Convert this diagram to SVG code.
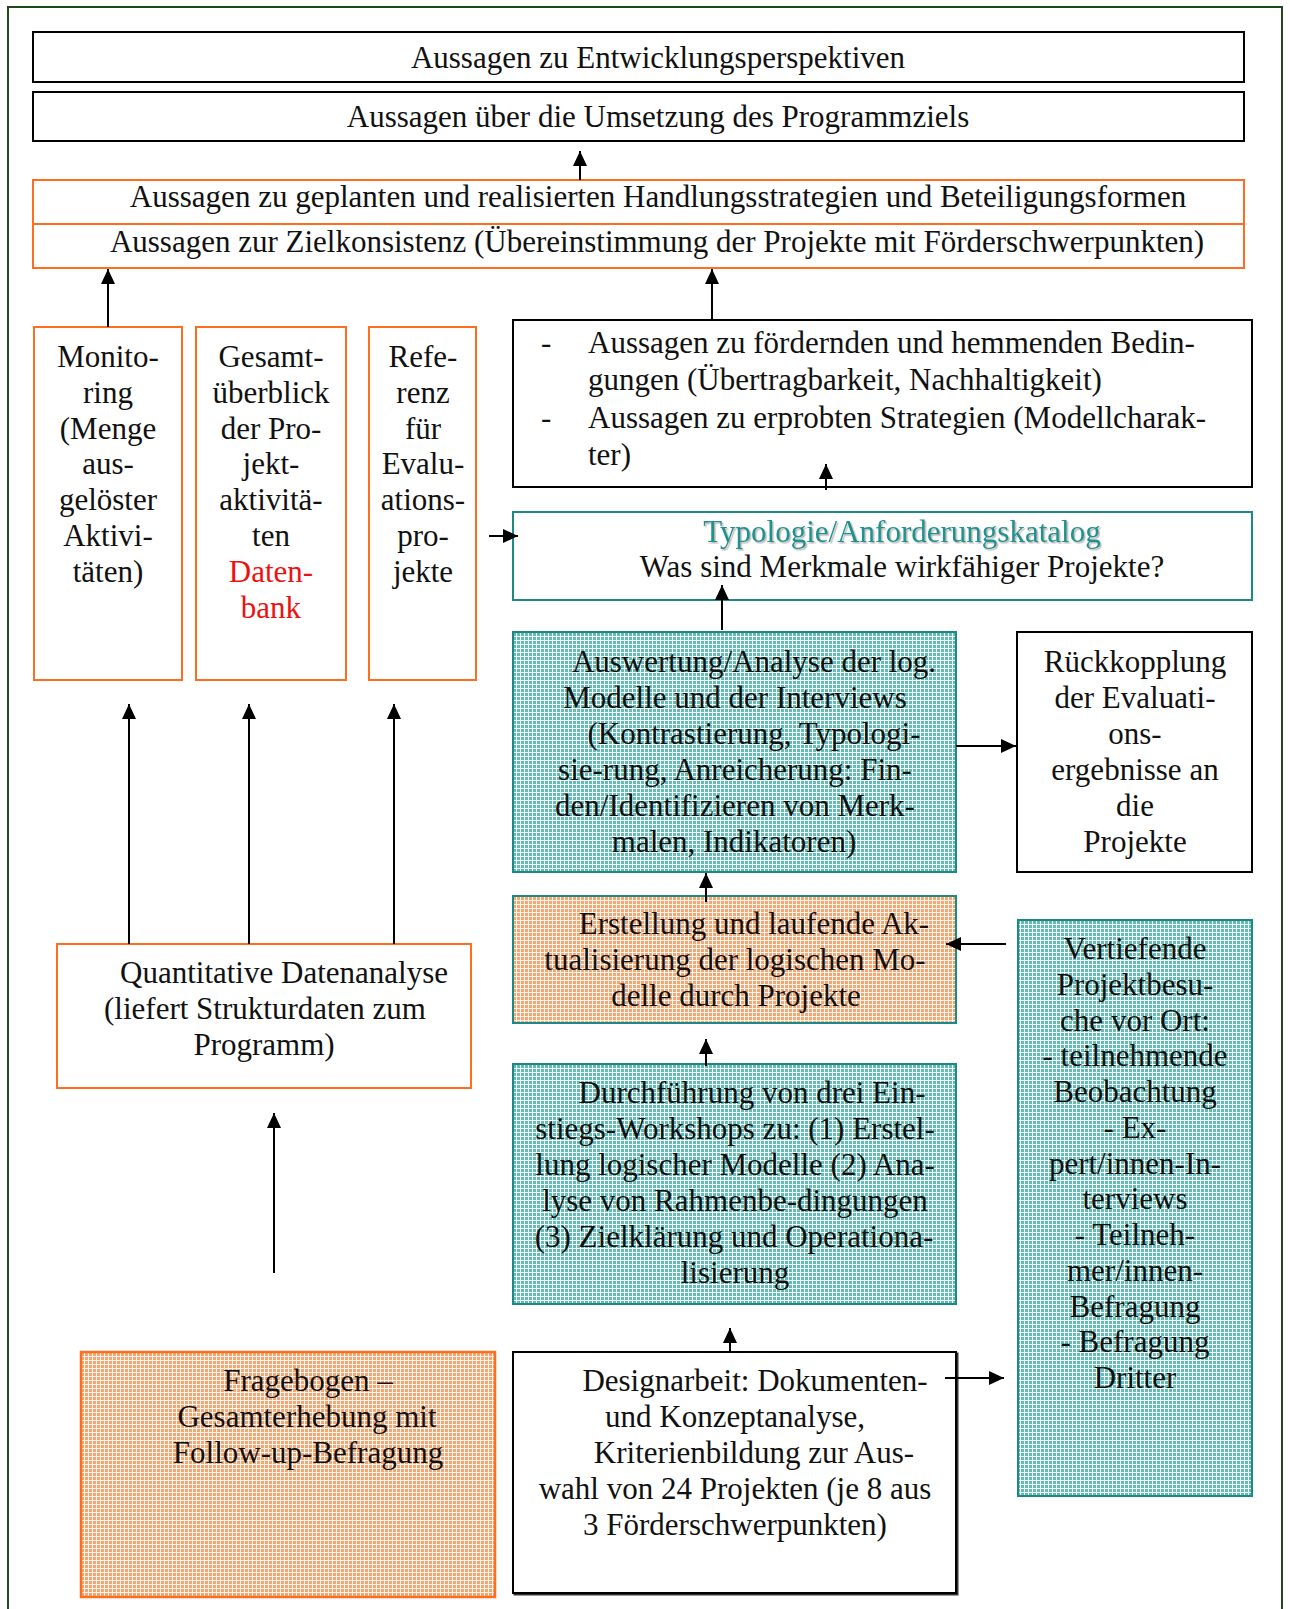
<svg xmlns="http://www.w3.org/2000/svg" width="1290" height="1609" viewBox="0 0 1290 1609">
<defs>
<style>
text{font-family:"Liberation Serif","DejaVu Serif",serif;font-size:31px;fill:#111}
.c{text-anchor:middle}
.blk{fill:#fff;stroke:#000;stroke-width:2}
.org{fill:#fff;stroke:#ff6d1f;stroke-width:2}
.tl{fill:#fff;stroke:#1b8a86;stroke-width:2}
.tlh{fill:url(#tealHatch);stroke:#1b8a86;stroke-width:2}
.orh{fill:url(#orgHatch);stroke:#1b8a86;stroke-width:2}
.orh2{fill:url(#orgHatch);stroke:#ff6d1f;stroke-width:2.5}
.conn line{stroke:#000;stroke-width:2;marker-end:url(#ah)}
.red{fill:#ee1111}
.teal{fill:#1f938f}
</style>
<pattern id="tealHatch" width="4" height="4" patternUnits="userSpaceOnUse">
<rect width="4" height="4" fill="#66bbb7"/>
<rect width="4" height="1" fill="#f4fbfb"/>
<rect width="1" height="4" fill="#f4fbfb"/>
</pattern>
<pattern id="orgHatch" width="4" height="4" patternUnits="userSpaceOnUse">
<rect width="4" height="4" fill="#f5a673"/>
<rect width="4" height="1" fill="#fef5ef"/>
<rect width="1" height="4" fill="#fef5ef"/>
</pattern>
<marker id="ah" markerUnits="userSpaceOnUse" markerWidth="16" markerHeight="14" refX="15" refY="7" orient="auto">
<path d="M0,0 L15,7 L0,14 Z" fill="#000"/>
</marker>
<filter id="tsh" x="-5%" y="-20%" width="110%" height="140%">
<feDropShadow dx="1.5" dy="1.5" stdDeviation="0.6" flood-color="#999" flood-opacity="0.7"/>
</filter>
<filter id="bsh" x="-2%" y="-2%" width="104%" height="104%">
<feDropShadow dx="1.5" dy="1.5" stdDeviation="0.3" flood-color="#000" flood-opacity="0.8"/>
</filter>
</defs>

<rect id="frame" x="8" y="7" width="1274" height="1640" fill="#fff" stroke="#1e4a1e" stroke-width="2"/>

<g id="n-entwicklung">
<rect class="blk" x="33" y="32" width="1211" height="50"/>
<text class="c" x="658" y="68">Aussagen zu Entwicklungsperspektiven</text>
</g>
<g id="n-umsetzung">
<rect class="blk" x="33" y="92" width="1211" height="49"/>
<text class="c" x="658" y="127">Aussagen über die Umsetzung des Programmziels</text>
</g>
<g id="n-handlung">
<rect class="org" x="33" y="180" width="1211" height="44"/>
<text class="c" x="658" y="207">Aussagen zu geplanten und realisierten Handlungsstrategien und Beteiligungsformen</text>
</g>
<g id="n-ziel">
<rect class="org" x="33" y="224" width="1211" height="44"/>
<text class="c" x="657" y="252">Aussagen zur Zielkonsistenz (Übereinstimmung der Projekte mit Förderschwerpunkten)</text>
</g>

<g id="n-monitoring">
<rect class="org" x="34" y="327" width="148" height="353"/>
<text class="c" x="108" y="367">Monito-</text>
<text class="c" x="108" y="403">ring</text>
<text class="c" x="108" y="439">(Menge</text>
<text class="c" x="108" y="474">aus-</text>
<text class="c" x="108" y="510">gelöster</text>
<text class="c" x="108" y="546">Aktivi-</text>
<text class="c" x="108" y="582">täten)</text>
</g>
<g id="n-gesamt">
<rect class="org" x="196" y="327" width="150" height="353"/>
<text class="c" x="271" y="367">Gesamt-</text>
<text class="c" x="271" y="403">überblick</text>
<text class="c" x="271" y="439">der Pro-</text>
<text class="c" x="271" y="474">jekt-</text>
<text class="c" x="271" y="510">aktivitä-</text>
<text class="c" x="271" y="546">ten</text>
<text class="c red" x="271" y="582">Daten-</text>
<text class="c red" x="271" y="618">bank</text>
</g>
<g id="n-referenz">
<rect class="org" x="369" y="327" width="107" height="353"/>
<text class="c" x="423" y="367">Refe-</text>
<text class="c" x="423" y="403">renz</text>
<text class="c" x="423" y="439">für</text>
<text class="c" x="423" y="474">Evalu-</text>
<text class="c" x="423" y="510">ations-</text>
<text class="c" x="423" y="546">pro-</text>
<text class="c" x="423" y="582">jekte</text>
</g>

<g id="n-bedingungen">
<rect class="blk" x="513" y="320" width="739" height="167"/>
<text x="541" y="353">-</text>
<text x="588" y="353">Aussagen zu fördernden und hemmenden Bedin-</text>
<text x="588" y="390">gungen (Übertragbarkeit, Nachhaltigkeit)</text>
<text x="541" y="428">-</text>
<text x="588" y="428">Aussagen zu erprobten Strategien (Modellcharak-</text>
<text x="588" y="465">ter)</text>
</g>

<g id="n-typologie">
<rect class="tl" x="513" y="512" width="739" height="88"/>
<text class="c teal" x="902" y="542" filter="url(#tsh)">Typologie/Anforderungskatalog</text>
<text class="c" x="902" y="577">Was sind Merkmale wirkfähiger Projekte?</text>
</g>

<g id="n-auswertung">
<rect class="tlh" x="513" y="632" width="443" height="240"/>
<text class="c" x="754" y="672">Auswertung/Analyse der log.</text>
<text class="c" x="735" y="708">Modelle und der Interviews</text>
<text class="c" x="754" y="744">(Kontrastierung, Typologi-</text>
<text class="c" x="735" y="780">sie-rung, Anreicherung: Fin-</text>
<text class="c" x="735" y="816">den/Identifizieren von Merk-</text>
<text class="c" x="734" y="852">malen, Indikatoren)</text>
</g>

<g id="n-rueckkopplung">
<rect class="blk" x="1017" y="632" width="235" height="240"/>
<text class="c" x="1135" y="672">Rückkopplung</text>
<text class="c" x="1135" y="708">der Evaluati-</text>
<text class="c" x="1135" y="744">ons-</text>
<text class="c" x="1135" y="780">ergebnisse an</text>
<text class="c" x="1135" y="816">die</text>
<text class="c" x="1135" y="852">Projekte</text>
</g>

<g id="n-erstellung">
<rect class="orh" x="513" y="896" width="443" height="127"/>
<text class="c" x="754" y="934">Erstellung und laufende Ak-</text>
<text class="c" x="735" y="970">tualisierung der logischen Mo-</text>
<text class="c" x="736" y="1006">delle durch Projekte</text>
</g>

<g id="n-vertiefende">
<rect class="tlh" x="1018" y="920" width="234" height="576"/>
<text class="c" x="1135" y="959">Vertiefende</text>
<text class="c" x="1135" y="995">Projektbesu-</text>
<text class="c" x="1135" y="1031">che vor Ort:</text>
<text class="c" x="1135" y="1066">- teilnehmende</text>
<text class="c" x="1135" y="1102">Beobachtung</text>
<text class="c" x="1135" y="1138">- Ex-</text>
<text class="c" x="1135" y="1174">pert/innen-In-</text>
<text class="c" x="1135" y="1209">terviews</text>
<text class="c" x="1135" y="1245">- Teilneh-</text>
<text class="c" x="1135" y="1281">mer/innen-</text>
<text class="c" x="1135" y="1317">Befragung</text>
<text class="c" x="1135" y="1352">- Befragung</text>
<text class="c" x="1135" y="1388">Dritter</text>
</g>

<g id="n-quantitativ">
<rect class="org" x="57" y="944" width="414" height="144"/>
<text class="c" x="284" y="983">Quantitative Datenanalyse</text>
<text class="c" x="265" y="1019">(liefert Strukturdaten zum</text>
<text class="c" x="264" y="1055">Programm)</text>
</g>

<g id="n-durchfuehrung">
<rect class="tlh" x="513" y="1064" width="443" height="240"/>
<text class="c" x="752" y="1103">Durchführung von drei Ein-</text>
<text class="c" x="735" y="1139">stiegs-Workshops zu: (1) Erstel-</text>
<text class="c" x="735" y="1175">lung logischer Modelle (2) Ana-</text>
<text class="c" x="735" y="1211">lyse von Rahmenbe-dingungen</text>
<text class="c" x="734" y="1247">(3) Zielklärung und Operationa-</text>
<text class="c" x="735" y="1283">lisierung</text>
</g>

<g id="n-fragebogen">
<rect class="orh2" x="81" y="1352" width="414" height="245"/>
<text class="c" x="308" y="1391">Fragebogen –</text>
<text class="c" x="307" y="1427">Gesamterhebung mit</text>
<text class="c" x="308" y="1463">Follow-up-Befragung</text>
</g>

<g id="n-design">
<rect class="blk" x="513" y="1352" width="443" height="241" filter="url(#bsh)"/>
<text class="c" x="755" y="1391">Designarbeit: Dokumenten-</text>
<text class="c" x="735" y="1427">und Konzeptanalyse,</text>
<text class="c" x="754" y="1463">Kriterienbildung zur Aus-</text>
<text class="c" x="735" y="1499">wahl von 24 Projekten (je 8 aus</text>
<text class="c" x="735" y="1535">3 Förderschwerpunkten)</text>
</g>

<g id="connectors" class="conn">
<line x1="580" y1="180" x2="580" y2="151"/>
<line x1="108" y1="327" x2="108" y2="269"/>
<line x1="712" y1="320" x2="712" y2="269"/>
<line x1="826" y1="490" x2="826" y2="464"/>
<line x1="489" y1="536" x2="518" y2="536"/>
<line x1="722" y1="630" x2="722" y2="585"/>
<line x1="956" y1="746" x2="1016" y2="746"/>
<line x1="706" y1="902" x2="706" y2="873"/>
<line x1="1006" y1="944" x2="946" y2="944"/>
<line x1="706" y1="1066" x2="706" y2="1039"/>
<line x1="730" y1="1352" x2="730" y2="1328"/>
<line x1="945" y1="1378" x2="1004" y2="1378"/>
<line x1="129" y1="944" x2="129" y2="704"/>
<line x1="249" y1="944" x2="249" y2="704"/>
<line x1="394" y1="944" x2="394" y2="704"/>
<line x1="274" y1="1273" x2="274" y2="1113"/>
</g>
</svg>
